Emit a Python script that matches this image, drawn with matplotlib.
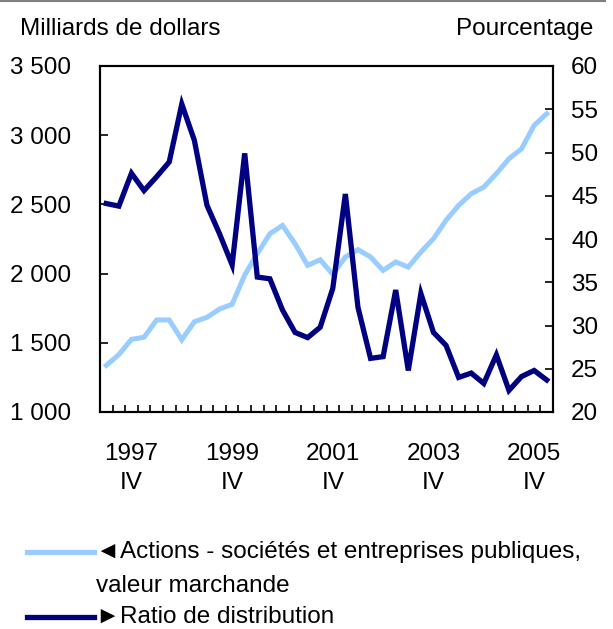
import matplotlib
matplotlib.use("Agg")
import matplotlib.pyplot as plt
from matplotlib.lines import Line2D
from matplotlib.ticker import FixedLocator, FuncFormatter
import numpy as np

plt.rcParams['font.family'] = ['Liberation Sans', 'DejaVu Sans']

# Quarterly data, 1997 Q2 .. 2006 Q1
actions = [1337, 1415, 1525, 1540, 1665, 1665, 1522, 1652, 1684, 1744,
           1778, 1990, 2144, 2288, 2348, 2216, 2060, 2100, 1994, 2120,
           2173, 2120, 2023, 2084, 2047, 2156, 2252, 2385, 2493, 2577,
           2625, 2722, 2830, 2902, 3071, 3155]
ratio = [44.1, 43.8, 47.6, 45.6, 47.2, 48.9, 55.6, 51.4, 43.9, 40.6,
         37.0, 49.9, 35.6, 35.4, 31.8, 29.2, 28.6, 29.8, 34.3, 45.2,
         32.1, 26.2, 26.4, 34.1, 24.8, 33.7, 29.2, 27.7, 24.0, 24.5,
         23.3, 26.6, 22.5, 24.1, 24.8, 23.7]
label_positions = [2, 10, 18, 26, 34]
label_texts = ["1997\nIV", "1999\nIV", "2001\nIV", "2003\nIV", "2005\nIV"]
left_ticks = [1000, 1500, 2000, 2500, 3000, 3500]
right_ticks = [20, 25, 30, 35, 40, 45, 50, 55, 60]

W, H = 613, 629
fig = plt.figure(figsize=(W / 100, H / 100), dpi=100)
FS = 17.5

L, R, T, B = 100, 553, 66, 412
ax = fig.add_axes([L / W, (H - B) / H, (R - L) / W, (B - T) / H])
ax2 = ax.twinx()

x = np.arange(len(actions))
light = '#99CCFF'
dark = '#000080'
ax.plot(x, actions, color=light, lw=3.6, solid_joinstyle='miter', zorder=2)
ax2.plot(x, ratio, color=dark, lw=3.8, solid_joinstyle='miter', zorder=3)

ax.set_xlim(-0.5, len(actions) - 0.5)
ax.set_ylim(1000, 3500)
ax2.set_ylim(20, 60)

ax.yaxis.set_major_locator(FixedLocator(left_ticks))
ax.yaxis.set_major_formatter(FuncFormatter(lambda v, p: f"{int(v):,}".replace(",", " ")))
ax2.yaxis.set_major_locator(FixedLocator(right_ticks))

ax.set_xticks(label_positions)
ax.set_xticklabels(label_texts, linespacing=1.45)
ax.set_xticks(np.arange(0.5, len(actions) - 0.5, 1.0), minor=True)
ax.tick_params(axis='x', which='major', length=0, pad=22, labelsize=FS)
ax.tick_params(axis='x', which='minor', direction='in', length=5, width=1.2)
ax.tick_params(axis='y', direction='in', length=6, width=1.2, pad=21, labelsize=FS)
ax2.tick_params(axis='y', direction='in', length=6, width=1.2, pad=13, labelsize=FS)

for a in (ax, ax2):
    for s in a.spines.values():
        s.set_linewidth(1.5)
        s.set_color('black')

ax2.set_zorder(ax.get_zorder() + 1)
ax2.patch.set_visible(False)

# Axis titles
fig.text(20 / W, (H - 35) / H, "Milliards de dollars", fontsize=FS, ha='left', va='baseline')
fig.text(593 / W, (H - 35) / H, "Pourcentage", fontsize=FS, ha='right', va='baseline')

# Top border line
fig.add_artist(Line2D([0, 605 / W], [1 - 1 / H, 1 - 1 / H], color='#808080', lw=1.5,
                      transform=fig.transFigure))

# Legend (manual)
def leg_line(y, color):
    fig.add_artist(Line2D([27 / W, 94 / W], [(H - y) / H, (H - y) / H], color=color,
                          lw=3.8, transform=fig.transFigure))

leg_line(552, light)
fig.text(96 / W, (H - 552) / H, "\u25c4Actions - sociétés et entreprises publiques,",
         fontsize=FS, ha='left', va='center')
fig.text(96 / W, (H - 586) / H, "valeur marchande", fontsize=FS, ha='left', va='center')
leg_line(617, dark)
fig.text(96 / W, (H - 617) / H, "\u25baRatio de distribution", fontsize=FS,
         ha='left', va='center')

fig.savefig("out.png", dpi=100)
